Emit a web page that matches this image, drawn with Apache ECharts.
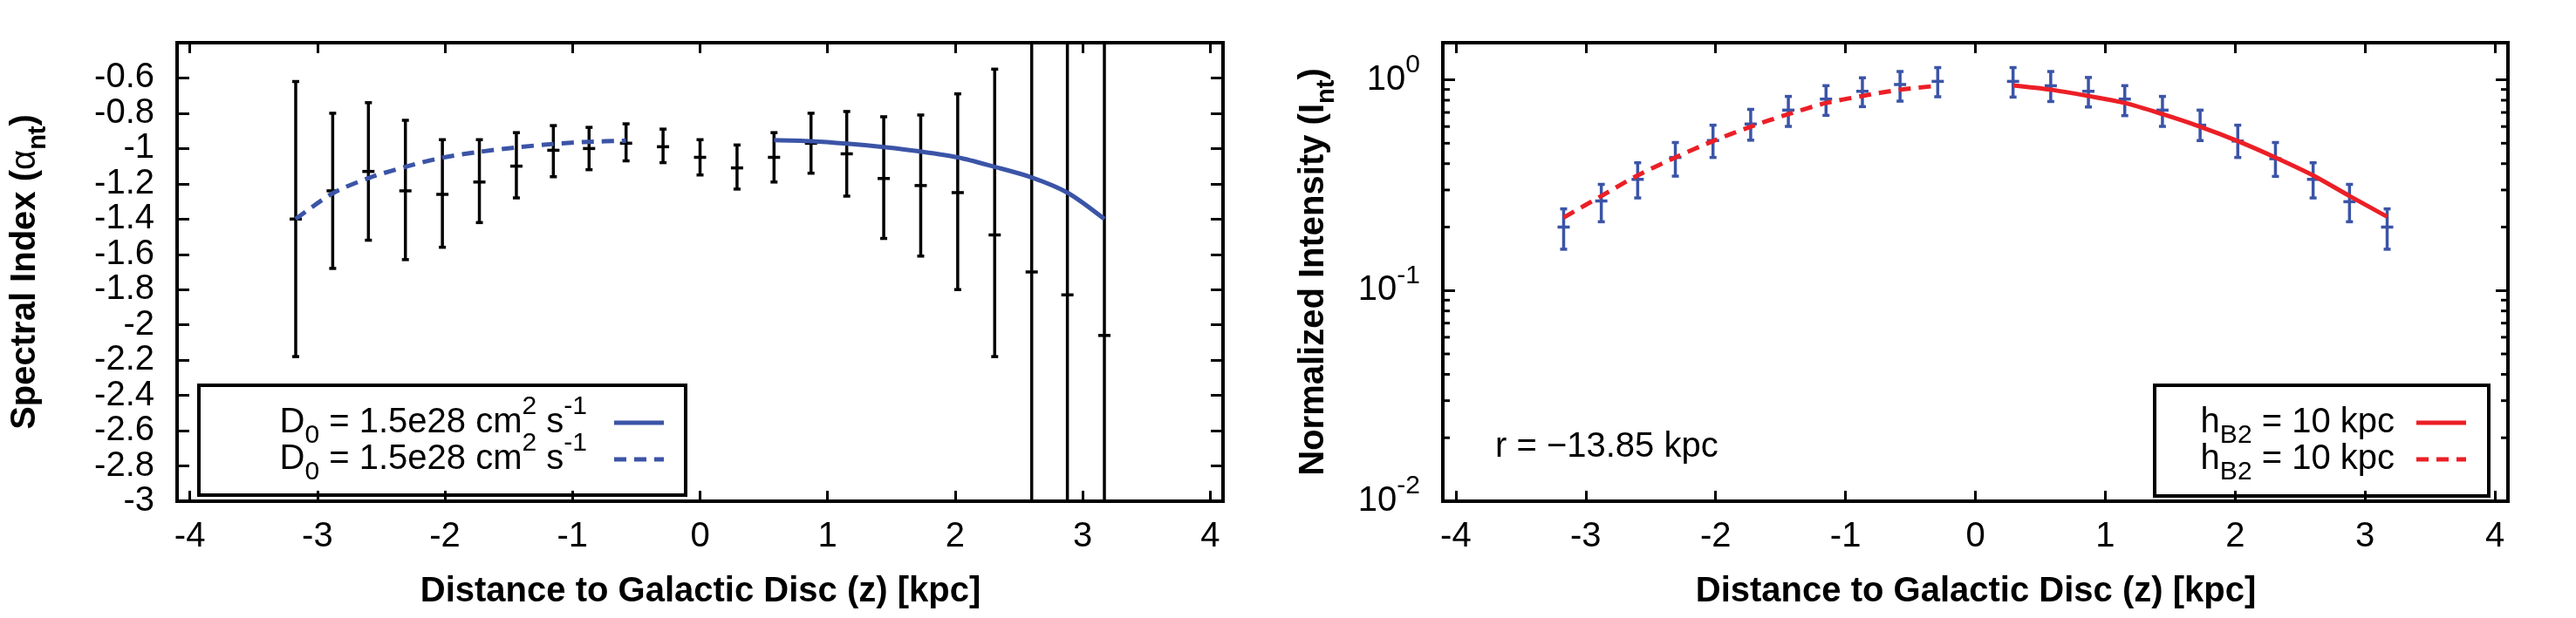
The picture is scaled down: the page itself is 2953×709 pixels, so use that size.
<!DOCTYPE html>
<html>
<head>
<meta charset="utf-8">
<title>Spectral index and normalized intensity vs distance to the disc</title>
<script src="https://cdn.jsdelivr.net/npm/echarts@6.0.0/dist/echarts.min.js"></script>
<style>
  html, body { margin: 0; padding: 0; background: #fff; }
  #chart { width: 2953px; height: 709px; }
</style>
</head>
<body>
<div id="chart"></div>
<script>
// left panel: spectral index, data with error bars
const zAlpha = [-3.17, -2.88, -2.60, -2.31, -2.02, -1.73, -1.44, -1.15, -0.87, -0.58, -0.29, 0,
  0.29, 0.58, 0.87, 1.15, 1.44, 1.73, 2.02, 2.31, 2.60, 2.88, 3.17]
const alphaMid = [-1.40, -1.24, -1.13, -1.24, -1.26, -1.19, -1.10, -1.01, -1.00, -0.97, -0.99, -1.05,
  -1.11, -1.05, -0.97, -1.03, -1.17, -1.21, -1.25, -1.49, -1.70, -1.83, -2.06]
const alphaLow = [-2.18, -1.68, -1.52, -1.63, -1.56, -1.42, -1.28, -1.16, -1.12, -1.07, -1.08, -1.15,
  -1.23, -1.19, -1.14, -1.27, -1.51, -1.61, -1.80, -2.18, -3.30, -3.63, -4.26]
const alphaHigh = [-0.62, -0.80, -0.74, -0.84, -0.95, -0.95, -0.91, -0.87, -0.88, -0.86, -0.89, -0.95,
  -0.98, -0.91, -0.80, -0.79, -0.82, -0.81, -0.69, -0.55, -0.10, -0.03, 0.14]

// left panel: model curves (solid z > 0, dashed z < 0)
const zFitNorth = [0.58, 0.87, 1.15, 1.44, 1.73, 2.02, 2.31, 2.60, 2.88, 3.17]
const alphaFitNorth = [-0.952, -0.958, -0.972, -0.992, -1.017, -1.050, -1.104, -1.164, -1.250, -1.400]
const zFitSouth = [-3.17, -2.88, -2.60, -2.31, -2.02, -1.73, -1.44, -1.15, -0.87, -0.58]
const alphaFitSouth = [-1.400, -1.254, -1.168, -1.104, -1.052, -1.019, -0.994, -0.974, -0.962, -0.956]

// right panel: normalized intensity, data with error bars
const zInt = [-3.17, -2.88, -2.60, -2.31, -2.02, -1.73, -1.44, -1.15, -0.87, -0.58, -0.29,
  0.29, 0.58, 0.87, 1.15, 1.44, 1.73, 2.02, 2.31, 2.60, 2.88, 3.17]
const intMid = [0.200, 0.266, 0.337, 0.428, 0.515, 0.617, 0.718, 0.810, 0.882, 0.950, 0.983,
  0.983, 0.937, 0.882, 0.810, 0.718, 0.609, 0.512, 0.422, 0.337, 0.264, 0.200]
const intLow = [0.157, 0.212, 0.275, 0.349, 0.428, 0.517, 0.601, 0.678, 0.746, 0.792, 0.831,
  0.828, 0.789, 0.743, 0.676, 0.601, 0.515, 0.428, 0.348, 0.275, 0.212, 0.157]
const intHigh = [0.244, 0.319, 0.404, 0.504, 0.609, 0.724, 0.834, 0.938, 1.022, 1.095, 1.143,
  1.143, 1.095, 1.026, 0.938, 0.834, 0.718, 0.609, 0.504, 0.404, 0.319, 0.244]

// right panel: model curves
const zIntFitNorth = [0.29, 0.58, 0.87, 1.15, 1.44, 1.73, 2.02, 2.31, 2.60, 2.88, 3.17]
const intFitNorth = [0.941, 0.898, 0.838, 0.776, 0.687, 0.599, 0.512, 0.428, 0.352, 0.281, 0.224]
const zIntFitSouth = [-3.17, -2.88, -2.60, -2.31, -2.02, -1.73, -1.44, -1.15, -0.87, -0.58, -0.29]
const intFitSouth = [0.222, 0.281, 0.352, 0.428, 0.512, 0.599, 0.687, 0.776, 0.838, 0.898, 0.937]

// tick values
const zTicks = [-4, -3, -2, -1, 0, 1, 2, 3, 4]
const alphaTicks = [-3, -2.8, -2.6, -2.4, -2.2, -2, -1.8, -1.6, -1.4, -1.2, -1, -0.8, -0.6]
const intMinorTicks = [0.02, 0.03, 0.04, 0.05, 0.06, 0.07, 0.08, 0.09,
  0.2, 0.3, 0.4, 0.5, 0.6, 0.7, 0.8, 0.9]

const FONT = "'Liberation Sans', Arial, Helvetica, sans-serif"
const BLUE = '#3b54a7'
const RED = '#ec1f26'
const tickLine = { color: '#000', width: 3 }

const zip = (xs, ys) => xs.map((x, i) => [x, ys[i]])
const bars = (xs, mid, lo, hi) => xs.map((x, i) => [x, mid[i], lo[i], hi[i]])

function errorBars(color) {
  return function (params, api) {
    const x = api.value(0)
    const mid = api.coord([x, api.value(1)])
    const lo = api.coord([x, api.value(2)])
    const hi = api.coord([x, api.value(3)])
    const style = { stroke: color, lineWidth: 3.5 }
    return {
      type: 'group',
      children: [
        { type: 'line', shape: { x1: lo[0], y1: lo[1], x2: hi[0], y2: hi[1] }, style },
        { type: 'line', shape: { x1: lo[0] - 4, y1: lo[1], x2: lo[0] + 4, y2: lo[1] }, style },
        { type: 'line', shape: { x1: hi[0] - 4, y1: hi[1], x2: hi[0] + 4, y2: hi[1] }, style },
        { type: 'line', shape: { x1: mid[0] - 7, y1: mid[1], x2: mid[0] + 7, y2: mid[1] }, style }
      ]
    }
  }
}

// axes keep to the frame edges, never onZero
function zAxis(gridIndex, position) {
  return {
    gridIndex, position, type: 'value', min: -4.1, max: 4.1,
    axisLine: { show: false, onZero: false },
    splitLine: { show: false },
    axisTick: { inside: true, length: 12, customValues: zTicks, lineStyle: tickLine },
    axisLabel: {
      show: position === 'bottom', customValues: zTicks, margin: 21,
      color: '#000', fontSize: 40, fontFamily: FONT
    }
  }
}

function alphaAxis(position) {
  return {
    gridIndex: 0, position, type: 'value', min: -3, max: -0.4,
    axisLine: { show: false, onZero: false },
    splitLine: { show: false },
    axisTick: { inside: true, length: 14, customValues: alphaTicks, lineStyle: tickLine },
    axisLabel: {
      show: position === 'left', customValues: alphaTicks, margin: 26,
      color: '#000', fontSize: 40, fontFamily: FONT
    }
  }
}

function intAxis(position) {
  return {
    gridIndex: 1, position, type: 'log', logBase: 10, min: 0.01, max: 1.5,
    axisLine: { show: false, onZero: false },
    splitLine: { show: false },
    axisTick: { inside: true, length: 14, lineStyle: tickLine },
    axisLabel: {
      show: position === 'left', margin: 26, color: '#000',
      formatter: v => {
        const e = Math.log10(v)
        if (Math.abs(e - Math.round(e)) > 1e-6) return ''
        return '{m|10}{s|' + Math.round(e) + '}'
      },
      rich: {
        m: { fontSize: 40, fontFamily: FONT, lineHeight: 44, color: '#000' },
        s: { fontSize: 30, fontFamily: FONT, lineHeight: 44, color: '#000', padding: [0, 0, 34, 0] }
      }
    }
  }
}

const legendRich = {
  m: { fontSize: 40, fontFamily: FONT, lineHeight: 44, fill: '#000' },
  sub: { fontSize: 30, fontFamily: FONT, lineHeight: 44, fill: '#000', padding: [30, 0, 0, 0] },
  sup: { fontSize: 30, fontFamily: FONT, lineHeight: 44, fill: '#000', padding: [0, 0, 36, 0] }
}

const titleRich = {
  b: { fontSize: 40, fontWeight: 'bold', fontFamily: FONT, lineHeight: 44, fill: '#000' },
  g: { fontSize: 40, fontFamily: FONT, lineHeight: 44, fill: '#000' },
  s: { fontSize: 29, fontWeight: 'bold', fontFamily: FONT, lineHeight: 44, fill: '#000', padding: [30, 0, 0, 0] }
}

function text(x, y, str, rich, align, rotation) {
  return {
    type: 'text', x, y, rotation: rotation || 0,
    style: { text: str, rich, align, verticalAlign: 'middle', fill: '#000', font: '40px ' + FONT }
  }
}

function sample(x1, x2, y, color, dashed) {
  return {
    type: 'line',
    shape: { x1, y1: y, x2, y2: y },
    style: { stroke: color, lineWidth: 5, lineDash: dashed ? [14, 9] : null }
  }
}

function box(x, y, width, height) {
  return {
    type: 'rect',
    shape: { x, y, width, height },
    style: { fill: null, stroke: '#000', lineWidth: 4 }
  }
}

const chart = echarts.init(document.getElementById('chart'), null, { renderer: 'canvas' })

chart.setOption({
  backgroundColor: '#fff',
  animation: false,
  grid: [
    { left: 203, top: 49, width: 1199, height: 526, show: true, borderColor: '#000', borderWidth: 4 },
    { left: 1654, top: 49, width: 1221, height: 526, show: true, borderColor: '#000', borderWidth: 4 }
  ],
  xAxis: [zAxis(0, 'bottom'), zAxis(0, 'top'), zAxis(1, 'bottom'), zAxis(1, 'top')],
  yAxis: [alphaAxis('left'), alphaAxis('right'), intAxis('left'), intAxis('right')],
  series: [
    {
      type: 'custom', xAxisIndex: 0, yAxisIndex: 0, clip: true, z: 2,
      data: bars(zAlpha, alphaMid, alphaLow, alphaHigh),
      renderItem: errorBars('#000')
    },
    {
      type: 'line', xAxisIndex: 0, yAxisIndex: 0, z: 3, smooth: 0.3, symbol: 'none',
      data: zip(zFitNorth, alphaFitNorth),
      lineStyle: { color: BLUE, width: 5 }
    },
    {
      type: 'line', xAxisIndex: 0, yAxisIndex: 0, z: 3, smooth: 0.3, symbol: 'none',
      data: zip(zFitSouth, alphaFitSouth),
      lineStyle: { color: BLUE, width: 5, type: [14, 9] }
    },
    {
      type: 'custom', xAxisIndex: 2, yAxisIndex: 2, clip: true, z: 2,
      data: bars(zInt, intMid, intLow, intHigh),
      renderItem: errorBars(BLUE)
    },
    {
      type: 'line', xAxisIndex: 2, yAxisIndex: 2, z: 3, smooth: 0.3, symbol: 'none',
      data: zip(zIntFitNorth, intFitNorth),
      lineStyle: { color: RED, width: 5 }
    },
    {
      type: 'line', xAxisIndex: 2, yAxisIndex: 2, z: 3, smooth: 0.3, symbol: 'none',
      data: zip(zIntFitSouth, intFitSouth),
      lineStyle: { color: RED, width: 5, type: [14, 9] }
    },
    {
      // minor ticks of the log axis, both sides of the frame
      type: 'custom', xAxisIndex: 2, yAxisIndex: 2, silent: true, z: 4,
      data: intMinorTicks.map(v => [0, v]),
      renderItem: (params, api) => {
        const y = api.coord([0, api.value(1)])[1]
        const cs = params.coordSys
        const style = { stroke: '#000', lineWidth: 3 }
        return {
          type: 'group',
          children: [
            { type: 'line', shape: { x1: cs.x, y1: y, x2: cs.x + 8, y2: y }, style },
            { type: 'line', shape: { x1: cs.x + cs.width, y1: y, x2: cs.x + cs.width - 8, y2: y }, style }
          ]
        }
      }
    }
  ],
  graphic: [
    // axis titles
    text(803, 679, '{b|Distance to Galactic Disc (z) [kpc]}', titleRich, 'center'),
    text(2265, 679, '{b|Distance to Galactic Disc (z) [kpc]}', titleRich, 'center'),
    text(29, 312, '{b|Spectral Index (}{g|α}{s|nt}{b|)}', titleRich, 'center', Math.PI / 2),
    text(1506, 312, '{b|Normalized Intensity (I}{s|nt}{b|)}', titleRich, 'center', Math.PI / 2),

    // left legend
    box(228, 442, 558, 126),
    text(673, 485, '{m|D}{sub|0}{m| = 1.5e28 cm}{sup|2}{m| s}{sup|-1}', legendRich, 'right'),
    text(673, 527, '{m|D}{sub|0}{m| = 1.5e28 cm}{sup|2}{m| s}{sup|-1}', legendRich, 'right'),
    sample(704, 761, 485, BLUE, false),
    sample(704, 761, 527, BLUE, true),

    // right legend
    box(2470, 442, 383, 127),
    text(2745, 485, '{m|h}{sub|B2}{m| = 10 kpc}', legendRich, 'right'),
    text(2745, 527, '{m|h}{sub|B2}{m| = 10 kpc}', legendRich, 'right'),
    sample(2770, 2827, 485, RED, false),
    sample(2770, 2827, 527, RED, true),

    text(1714, 513, '{m|r = −13.85 kpc}', legendRich, 'left')
  ]
})
</script>
</body>
</html>
